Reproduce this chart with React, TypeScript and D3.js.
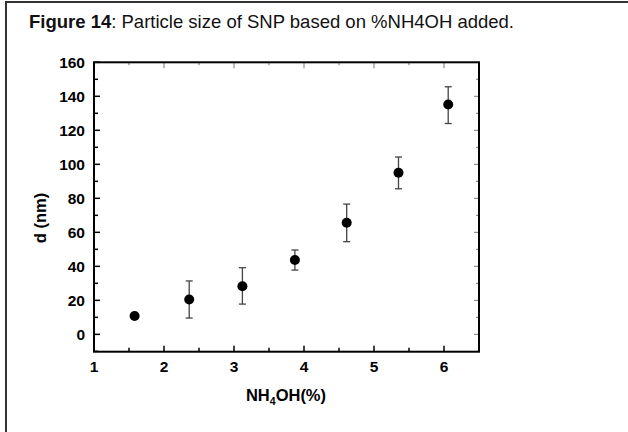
import React from "react";
import * as d3 from "d3";

const nh4ohPercent = [1.58, 2.36, 3.12, 3.87, 4.61, 5.35, 6.06];
const diameterNm = [10.8, 20.5, 28.3, 43.7, 65.6, 95.0, 135.2];
const errLow = [10.8, 9.6, 17.8, 37.8, 54.5, 85.6, 124.0];
const errHigh = [10.8, 31.4, 39.2, 49.6, 76.6, 104.3, 145.6];
const xTicks = [1, 2, 3, 4, 5, 6];
const yTicks = [0, 20, 40, 60, 80, 100, 120, 140, 160];

const W = 628, H = 432;
const M = { left: 94, right: 479, top: 62.3, bottom: 351.7 };

export default function App() {
  const x = d3.scaleLinear().domain([1, 6.5]).range([M.left, M.right]);
  const y = d3.scaleLinear().domain([-10.2, 160]).range([M.bottom, M.top]);
  const xMinor = d3.range(1.5, 6.5, 1);
  const yMinor = d3.range(-10, 160, 20);
  const font = "Arial, 'Liberation Sans', Helvetica, sans-serif";
  return (
    <svg width={W} height={H} style={{ position: "absolute", left: 0, top: 0 }} fontFamily={font}>
      <rect x={0} y={0} width={W} height={H} fill="#fff" />
      <rect x={6} y={2} width={W + 20} height={H + 20} fill="none" stroke="#333" strokeWidth={2} />
      <text x={29} y={27.5} fontSize={18.5} fill="#111">
        <tspan fontWeight="bold">Figure 14</tspan>
        <tspan>: Particle size of SNP based on %NH4OH added.</tspan>
      </text>
      {/* ticks */}
      <g stroke="#000" strokeWidth={1.5}>
        {xTicks.map((t) => (
          <g key={"xt" + t}>
            <line x1={x(t)} x2={x(t)} y1={M.bottom} y2={M.bottom - 6} />
            <line x1={x(t)} x2={x(t)} y1={M.top} y2={M.top + 6} strokeWidth={0.8} stroke="#555" />
          </g>
        ))}
        {xMinor.map((t) => (
          <g key={"xm" + t}>
            <line x1={x(t)} x2={x(t)} y1={M.bottom} y2={M.bottom - 4} />
            <line x1={x(t)} x2={x(t)} y1={M.top} y2={M.top + 3} strokeWidth={0.8} stroke="#555" />
          </g>
        ))}
        {yTicks.map((t) => (
          <g key={"yt" + t}>
            <line x1={M.left} x2={M.left + 6} y1={y(t)} y2={y(t)} />
            <line x1={M.right} x2={M.right - 5} y1={y(t)} y2={y(t)} strokeWidth={0.8} stroke="#555" />
          </g>
        ))}
        {yMinor.map((t) => (
          <g key={"ym" + t}>
            <line x1={M.left} x2={M.left + 4} y1={y(t)} y2={y(t)} />
            <line x1={M.right} x2={M.right - 3} y1={y(t)} y2={y(t)} strokeWidth={0.8} stroke="#555" />
          </g>
        ))}
      </g>
      <rect x={M.left} y={M.top} width={M.right - M.left} height={M.bottom - M.top} fill="none" stroke="#000" strokeWidth={2} />
      {/* tick labels */}
      <g fontWeight="bold" fontSize={15.5} fill="#000">
        {xTicks.map((t) => (
          <text key={"xl" + t} x={x(t)} y={M.bottom + 20.5} textAnchor="middle">{t}</text>
        ))}
        {yTicks.map((t) => (
          <text key={"yl" + t} x={M.left - 9} y={y(t)} dy="0.36em" textAnchor="end">{t}</text>
        ))}
      </g>
      <text x={286} y={400.5} textAnchor="middle" fontWeight="bold" fontSize={16.5}>
        NH<tspan fontSize={10.5} dy={4}>4</tspan><tspan dy={-4}>OH(%)</tspan>
      </text>
      <text transform={`translate(46,218) rotate(-90)`} textAnchor="middle" fontWeight="bold" fontSize={16.5}>
        d (nm)
      </text>
      {/* error bars */}
      <g stroke="#444" strokeWidth={1.3}>
        {nh4ohPercent.map((v, i) =>
          errHigh[i] - errLow[i] > 1 ? (
            <g key={"e" + i}>
              <line x1={x(v)} x2={x(v)} y1={y(errLow[i])} y2={y(errHigh[i])} />
              <line x1={x(v) - 3.5} x2={x(v) + 3.5} y1={y(errLow[i])} y2={y(errLow[i])} />
              <line x1={x(v) - 3.5} x2={x(v) + 3.5} y1={y(errHigh[i])} y2={y(errHigh[i])} />
            </g>
          ) : null
        )}
      </g>
      {nh4ohPercent.map((v, i) => (
        <circle key={"p" + i} cx={x(v)} cy={y(diameterNm[i])} r={5} fill="#000" />
      ))}
    </svg>
  );
}
